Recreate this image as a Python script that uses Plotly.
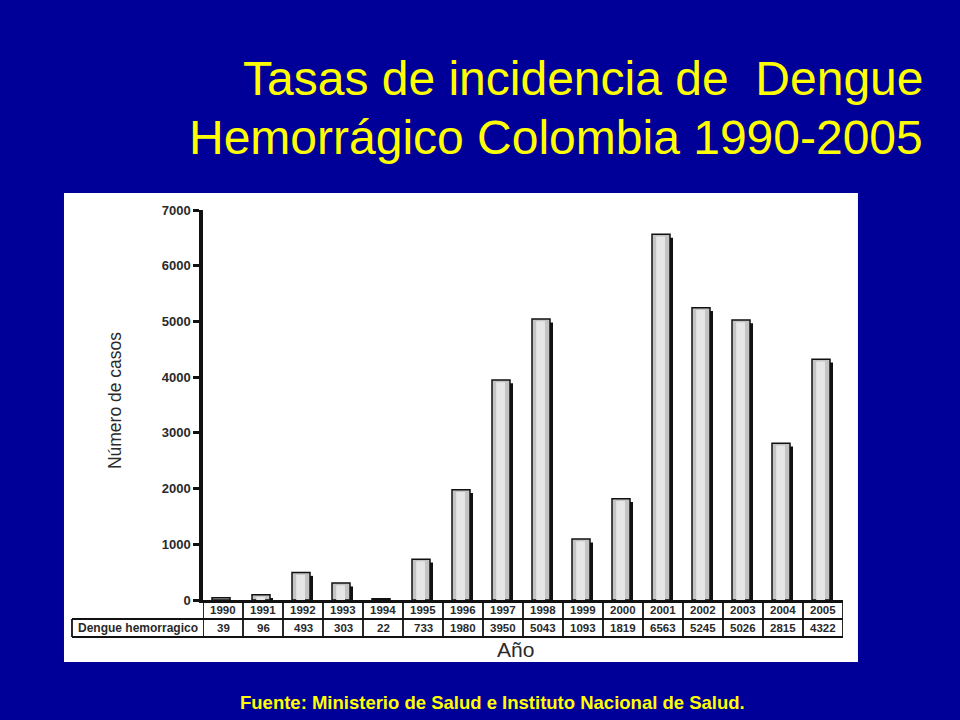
import plotly.graph_objects as go

# ---- data ----
years = ["1990", "1991", "1992", "1993", "1994", "1995", "1996", "1997",
         "1998", "1999", "2000", "2001", "2002", "2003", "2004", "2005"]
casos = [39, 96, 493, 303, 22, 733, 1980, 3950, 5043, 1093, 1819, 6563, 5245, 5026, 2815, 4322]
serie_label = "Dengue hemorragico"
y_ticks = [0, 1000, 2000, 3000, 4000, 5000, 6000, 7000]

title_1 = "Tasas de incidencia de  Dengue"
title_2 = "Hemorrágico Colombia 1990-2005"
fuente = "Fuente: Ministerio de Salud e Instituto Nacional de Salud."

BG = "#000099"
YEL = "#FFFF00"
FONT = "Liberation Sans, Arial, sans-serif"
TXT = "#2a2a2a"

idx = list(range(len(years)))
shadow = [max(v - 60, 0) for v in casos]

fig = go.Figure()

# shadow bars
fig.add_trace(go.Bar(x=idx, y=shadow, width=0.42, offset=-0.17,
                     marker=dict(color="#111111", line=dict(width=0)),
                     hoverinfo="skip", showlegend=False))
# main bars
fig.add_trace(go.Bar(x=idx, y=casos, width=0.45, offset=-0.275,
                     marker=dict(color="#c4c4c4", line=dict(color="#111111", width=1.5)),
                     name=serie_label, showlegend=False))
# highlight inside bars (fake gradient)
fig.add_trace(go.Bar(x=idx, y=[max(v - 40, 0) for v in casos], width=0.22, offset=-0.17,
                     marker=dict(color="#e6e6e6", line=dict(width=0)),
                     hoverinfo="skip", showlegend=False))

shapes = []
# white panel
shapes.append(dict(type="rect", xref="paper", yref="paper", x0=-0.2172, x1=1.0234,
                   y0=-0.159, y1=1.0436, fillcolor="white", line=dict(width=0), layer="below"))

# table geometry (paper y)
y_r1_bot = -0.0487
y_r2_bot = -0.0949
n = len(years)
lw = 1.8
shapes.append(dict(type="line", xref="x", yref="paper", x0=-0.5, x1=n - 0.5,
                   y0=y_r1_bot, y1=y_r1_bot, line=dict(color="#111", width=lw)))
shapes.append(dict(type="line", xref="paper", yref="paper", x0=-0.2047, x1=0,
                   y0=y_r1_bot, y1=y_r1_bot, line=dict(color="#111", width=lw)))
shapes.append(dict(type="line", xref="paper", yref="paper", x0=-0.2047, x1=1.0,
                   y0=y_r2_bot, y1=y_r2_bot, line=dict(color="#111", width=lw)))
for i in range(n + 1):
    shapes.append(dict(type="line", xref="x", yref="paper", x0=i - 0.5, x1=i - 0.5,
                       y0=0, y1=y_r2_bot, line=dict(color="#111", width=lw)))
shapes.append(dict(type="line", xref="paper", yref="paper", x0=-0.2047, x1=-0.2047,
                   y0=y_r1_bot, y1=y_r2_bot, line=dict(color="#111", width=lw)))

annotations = []
for i, (yr, v) in enumerate(zip(years, casos)):
    annotations.append(dict(x=i, y=-0.0256, xref="x", yref="paper", text=yr, showarrow=False,
                            font=dict(family=FONT, size=11.5, color=TXT, weight="bold"),
                            xanchor="center", yanchor="middle"))
    annotations.append(dict(x=i, y=-0.0718, xref="x", yref="paper", text=f"{v}", showarrow=False,
                            font=dict(family=FONT, size=11.5, color=TXT, weight="bold"),
                            xanchor="center", yanchor="middle"))
annotations.append(dict(x=-0.1985, y=-0.0718, xref="paper", yref="paper", text=serie_label,
                        showarrow=False, font=dict(family=FONT, size=12, color=TXT, weight="bold"),
                        xanchor="left", yanchor="middle"))
annotations.append(dict(x=0.4875, y=-0.128, xref="paper", yref="paper", text="Año",
                        showarrow=False, font=dict(family=FONT, size=21, color=TXT),
                        xanchor="center", yanchor="middle"))
annotations.append(dict(x=-0.1375, y=0.51, xref="paper", yref="paper", text="Número de casos",
                        showarrow=False, textangle=-90,
                        font=dict(family=FONT, size=17.5, color=TXT),
                        xanchor="center", yanchor="middle"))
# titles
annotations.append(dict(x=1.1285, y=1.338, xref="paper", yref="paper", text=title_1,
                        showarrow=False, font=dict(family=FONT, size=48, color=YEL),
                        xanchor="right", yanchor="middle"))
annotations.append(dict(x=1.1285, y=1.187, xref="paper", yref="paper", text=title_2,
                        showarrow=False, font=dict(family=FONT, size=48, color=YEL),
                        xanchor="right", yanchor="middle"))
annotations.append(dict(x=0.453, y=-0.264, xref="paper", yref="paper", text=fuente,
                        showarrow=False, font=dict(family=FONT, size=18.5, color=YEL, weight="bold"),
                        xanchor="center", yanchor="middle"))

fig.update_layout(
    width=960, height=720,
    margin=dict(l=203, r=117, t=210, b=120),
    paper_bgcolor=BG, plot_bgcolor="white",
    barmode="overlay",
    shapes=shapes, annotations=annotations,
    showlegend=False,
    xaxis=dict(range=[-0.5, n - 0.5], showticklabels=False, ticks="", showgrid=False,
               zeroline=False, showline=True, linecolor="#111", linewidth=3),
    yaxis=dict(range=[0, 7000], tickvals=y_ticks, showgrid=False, zeroline=False,
               showline=True, linecolor="#111", linewidth=3.5,
               ticks="outside", ticklen=6, tickwidth=3, tickcolor="#111",
               tickfont=dict(family=FONT, size=13, color=TXT, weight="bold")),
)

fig.write_html("out.html",
               config={"displayModeBar": False},
               post_script="document.body.style.margin='0';document.body.style.padding='0';"
                           "document.body.style.background='#000099';")
